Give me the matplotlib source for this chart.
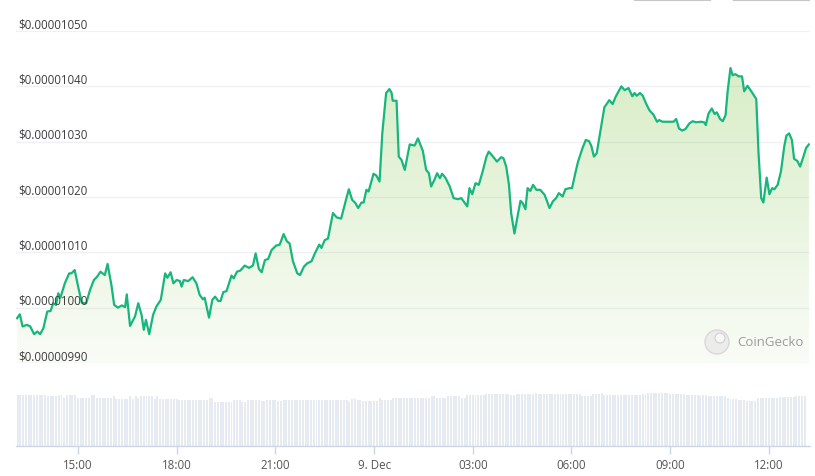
import matplotlib
matplotlib.use("Agg")
import matplotlib.pyplot as plt
import matplotlib.dates as mdates
import matplotlib.patches as patches
import matplotlib.transforms as mtransforms
from matplotlib.lines import Line2D
import numpy as np
import pandas as pd

plt.rcParams['font.family'] = ['Open Sans', 'DejaVu Sans']

price_times = [
    "13:09", "13:14", "13:19", "13:27", "13:33", "13:40", "13:46", "13:51", "13:57", "14:04",
    "14:10", "14:15", "14:20", "14:24", "14:28", "14:36", "14:44", "14:48", "14:54", "15:01",
    "15:07", "15:15", "15:22", "15:29", "15:35", "15:41", "15:49", "15:54", "16:01", "16:06",
    "16:13", "16:20", "16:26", "16:29", "16:35", "16:44", "16:50", "16:56", "17:00", "17:04",
    "17:10", "17:17", "17:23", "17:31", "17:39", "17:43", "17:49", "17:54", "18:00", "18:06",
    "18:09", "18:13", "18:21", "18:29", "18:36", "18:42", "18:48", "18:51", "18:59", "19:05",
    "19:10", "19:16", "19:20", "19:25", "19:31", "19:40", "19:44", "19:50", "19:56", "20:04",
    "20:12", "20:19", "20:24", "20:30", "20:35", "20:41", "20:47", "20:53", "21:01", "21:08",
    "21:15", "21:21", "21:26", "21:32", "21:40", "21:45", "21:52", "21:58", "22:06", "22:12",
    "22:20", "22:24", "22:30", "22:36", "22:45", "22:52", "23:00", "23:08", "23:14", "23:20",
    "23:26", "23:31", "23:37", "23:41", "23:46", "23:50", "23:55", "23:59", "00:04", "00:10",
    "00:15", "00:22", "00:28", "00:32", "00:34", "00:41", "00:45", "00:50", "00:56", "01:05",
    "01:14", "01:20", "01:29", "01:35", "01:40", "01:44", "01:50", "01:55", "02:00", "02:04",
    "02:10", "02:18", "02:25", "02:33", "02:39", "02:45", "02:50", "02:54", "02:59", "03:05",
    "03:11", "03:18", "03:25", "03:29", "03:37", "03:44", "03:52", "03:56", "04:01", "04:06",
    "04:10", "04:16", "04:22", "04:27", "04:31", "04:36", "04:40", "04:45", "04:50", "04:56",
    "05:03", "05:11", "05:20", "05:26", "05:32", "05:37", "05:44", "05:49", "05:56", "06:01",
    "06:07", "06:12", "06:20", "06:26", "06:32", "06:36", "06:41", "06:46", "06:54", "07:00",
    "07:09", "07:15", "07:21", "07:31", "07:37", "07:44", "07:51", "07:55", "07:59", "08:05",
    "08:10", "08:16", "08:22", "08:30", "08:36", "08:40", "08:46", "08:59", "09:06", "09:11",
    "09:16", "09:22", "09:28", "09:35", "09:41", "09:47", "09:56", "10:02", "10:05", "10:10",
    "10:16", "10:21", "10:25", "10:31", "10:36", "10:41", "10:45", "10:50", "10:54", "10:59",
    "11:05", "11:11", "11:15", "11:21", "11:28", "11:37", "11:41", "11:46", "11:50", "11:56",
    "12:01", "12:06", "12:10", "12:16", "12:22", "12:28", "12:32", "12:37", "12:42", "12:46",
    "12:52", "12:57", "13:03", "13:08", "13:13",
]
price_e8 = [
    998.1, 998.8, 996.6, 996.9, 996.6, 995.2, 995.7, 995.2, 996.3, 999.3,
    999.4, 1000.8, 1000.5, 1002.6, 1001.8, 1004.4, 1006.2, 1006.2, 1006.8, 1003.5,
    1000.9, 1000.8, 1003.2, 1005.0, 1005.6, 1006.5, 1005.9, 1007.9, 1004.1, 1000.5,
    1000.0, 1000.4, 1000.1, 1002.4, 996.7, 998.4, 1000.8, 998.7, 996.0, 997.8,
    995.2, 998.7, 1000.2, 1001.4, 1006.2, 1005.4, 1006.4, 1004.4, 1005.0, 1004.8,
    1003.8, 1005.0, 1004.8, 1005.5, 1004.4, 1002.3, 1001.5, 1001.8, 998.2, 1001.4,
    1002.0, 1001.2, 1001.2, 1002.8, 1003.0, 1005.8, 1005.3, 1006.5, 1006.7, 1007.6,
    1007.2, 1007.6, 1009.8, 1007.0, 1006.4, 1008.6, 1008.8, 1010.4, 1011.2, 1011.4,
    1013.3, 1012.0, 1011.6, 1008.4, 1006.2, 1005.9, 1007.4, 1008.0, 1008.4, 1009.8,
    1011.4, 1010.8, 1012.2, 1012.5, 1017.1, 1016.3, 1016.1, 1019.2, 1021.4, 1019.5,
    1018.9, 1018.0, 1019.0, 1019.0, 1021.3, 1021.0, 1022.8, 1024.2, 1023.9, 1022.8,
    1031.5, 1038.8, 1039.5, 1038.8, 1037.4, 1037.4, 1027.3, 1026.7, 1024.9, 1029.5,
    1029.3, 1030.6, 1028.3, 1024.9, 1024.3, 1021.9, 1023.1, 1024.3, 1023.4, 1024.2,
    1023.5, 1021.9, 1019.8, 1019.6, 1019.8, 1019.0, 1018.3, 1021.6, 1020.5, 1022.5,
    1022.2, 1024.6, 1027.3, 1028.2, 1027.3, 1026.4, 1027.2, 1027.0, 1025.5, 1022.2,
    1017.1, 1013.4, 1016.7, 1019.3, 1018.9, 1017.8, 1021.6, 1021.1, 1022.2, 1021.3,
    1021.3, 1020.4, 1018.0, 1019.2, 1019.8, 1020.7, 1020.1, 1021.4, 1021.6, 1021.6,
    1024.3, 1026.4, 1028.8, 1030.3, 1030.1, 1029.3, 1027.3, 1027.9, 1032.7, 1036.2,
    1037.5, 1036.8, 1038.2, 1040.0, 1039.3, 1039.7, 1038.2, 1038.8, 1038.3, 1038.8,
    1038.3, 1036.9, 1035.7, 1034.8, 1033.6, 1033.9, 1033.6, 1033.6, 1033.6, 1034.1,
    1032.4, 1032.0, 1032.3, 1033.3, 1033.7, 1033.5, 1033.6, 1033.5, 1033.0, 1035.1,
    1036.0, 1035.0, 1035.3, 1034.1, 1033.7, 1034.8, 1039.3, 1043.3, 1042.0, 1042.2,
    1041.8, 1041.8, 1039.1, 1040.1, 1039.1, 1037.7, 1028.2, 1019.8, 1019.0, 1023.5,
    1020.5, 1021.6, 1021.4, 1022.2, 1024.6, 1029.1, 1031.1, 1031.5, 1030.3, 1026.9,
    1026.5, 1025.5, 1027.3, 1028.9, 1029.5,
]

# volume per 5 minuten vanaf 13:10 (relatieve eenheden), een rij per uur
volume = [
    51, 51, 51, 51, 51, 51, 51, 51, 51, 51, 51, 50,
    50, 50, 50, 51, 51, 48, 51, 51, 51, 51, 48, 48,
    48, 48, 48, 51, 51, 48, 48, 48, 48, 48, 48, 50,
    47, 47, 47, 47, 47, 50, 47, 50, 48, 50, 50, 50,
    50, 50, 47, 50, 47, 47, 47, 47, 47, 47, 47, 46,
    46, 46, 46, 46, 46, 46, 46, 46, 46, 46, 48, 48,
    44.5, 44.5, 44.5, 44.5, 44.5, 44.5, 44.5, 46, 46, 46, 44.5, 44.5,
    46, 46, 46, 46, 46, 45.5, 45.5, 46, 46, 46, 46, 45,
    45, 46, 46, 46, 46, 46, 46, 46, 46, 46, 46, 46,
    46, 46, 46, 46, 46, 46, 46, 46, 46, 46, 46, 46,
    46, 44.5, 47, 47, 46, 46, 45, 45, 45, 45, 45, 45,
    48, 46, 46, 46, 46, 48, 48, 48, 48, 48, 48, 48,
    48, 48, 48, 48, 48, 48, 48, 50, 50, 48, 48, 48,
    48, 50, 50, 50, 50, 50, 48, 48, 51, 51, 51, 51,
    51, 51, 51, 52, 52, 52, 52, 52, 52, 52, 52, 52,
    51, 51, 52, 52, 52, 52, 52, 52, 52, 53, 52, 52,
    52, 52, 52, 52, 52, 52, 52, 52, 52, 52, 52, 52,
    52, 52, 50, 50, 50, 50, 52, 52, 52, 53, 51, 51,
    51, 51, 51, 51, 51, 51, 51, 51, 51, 51, 51, 51,
    52, 52, 53, 53, 53, 53, 53, 53, 53, 53, 52, 52,
    52, 52, 52, 52, 51, 51, 51, 51, 51, 50, 51, 51,
    50, 50.5, 50.5, 50.5, 50.5, 50.5, 50.5, 48, 47.5, 47, 47, 46.5,
    46.5, 46.5, 45, 45, 45, 45, 48.5, 48.5, 48.5, 48.5, 48.5, 48.5,
    48.5, 48.5, 49, 49, 49, 49, 49, 49, 50, 50, 50, 50,
]

y_ticks = [990, 1000, 1010, 1020, 1030, 1040, 1050]

# tijdstippen omzetten naar datetime (dagwissel bij middernacht)
day = pd.Timestamp("2023-12-08")
stamps = []
prev = None
for t in price_times:
    ts = pd.Timestamp(f"{day.date()} {t}")
    if prev is not None and ts < prev:
        day = day + pd.Timedelta(days=1)
        ts = pd.Timestamp(f"{day.date()} {t}")
    stamps.append(ts)
    prev = ts
xp = mdates.date2num(stamps)
vol_times = mdates.date2num(pd.date_range("2023-12-08 13:10", periods=len(volume), freq="5min"))

x0 = mdates.date2num(pd.Timestamp("2023-12-08 13:07"))
x1 = mdates.date2num(pd.Timestamp("2023-12-09 13:15"))

W, H = 815, 477
fig = plt.figure(figsize=(W / 100, H / 100), dpi=100)
fig.patch.set_facecolor('white')

def fbox(left, top, right, bottom):
    return [left / W, 1 - bottom / H, (right - left) / W, (bottom - top) / H]

ax = fig.add_axes(fbox(16, 32, 810, 364))
axv = fig.add_axes(fbox(16, 390, 810, 447))

line_color = '#16b67c'

# prijs
for v in y_ticks:
    ax.axhline(v, color='#eef0f4', lw=1, zorder=0)
poly = ax.fill_between(xp, price_e8, y_ticks[0], color='none', lw=0)
grad = np.linspace(0.32, 0.05, 256).reshape(-1, 1)
rgba = np.zeros((256, 1, 4))
rgba[..., 0] = 0.52
rgba[..., 1] = 0.78
rgba[..., 2] = 0.30
rgba[..., 3] = grad
img = ax.imshow(rgba, extent=[x0, x1, y_ticks[0], 1045], aspect='auto',
                origin='upper', zorder=1)
clip = poly.get_paths()[0]
img.set_clip_path(clip, ax.transData)
ax.plot(xp, price_e8, color=line_color, lw=1.6, zorder=3, solid_joinstyle='round')
ax.set_xlim(x0, x1)
ax.set_ylim(y_ticks[0], y_ticks[-1])
ax.axis('off')

trans = mtransforms.blended_transform_factory(ax.transAxes, ax.transData)
for v in y_ticks:
    ax.text(0.0025, v + 0.15, f"${v * 1e-8:.8f}", transform=trans, ha='left', va='bottom',
            fontsize=8.3, color='#3c3c3c', zorder=4)

# volume
axv.bar(vol_times, volume, width=5 / 1440 * 0.72, color='#e6eaf1', lw=0, align='center')
axv.set_xlim(x0, x1)
axv.set_ylim(0, 57)
for s in ['top', 'left', 'right']:
    axv.spines[s].set_visible(False)
axv.spines['bottom'].set_color('#ccd6eb')
axv.spines['bottom'].set_linewidth(1)
axv.set_yticks([])

tick_times = pd.date_range("2023-12-08 15:00", periods=8, freq="3h")
axv.set_xticks(mdates.date2num(tick_times))
axv.set_xticklabels([f"{t.day}. {t.strftime('%b')}" if t.hour == 0 else t.strftime('%H:%M')
                     for t in tick_times])
axv.tick_params(axis='x', length=6, width=1, color='#ccd6eb', labelsize=8.3,
                labelcolor='#555555', pad=2.5)

# watermerk
logo = patches.Circle((717, H - 343), 12, transform=None, facecolor='#ececec',
                      edgecolor='#d8d8d8', lw=1, zorder=5)
fig.patches.append(logo)
eye = patches.Circle((720, H - 339), 5, transform=None, facecolor='#f8f8f8',
                     edgecolor='#d0d0d0', lw=0.8, zorder=6)
fig.patches.append(eye)
fig.text(737 / W, 1 - 343 / H, "CoinGecko", fontsize=9.5, color='#9c9c9c',
         ha='left', va='center')

# knoppen rechtsboven (afgesneden)
for a, b in [(635, 710), (734, 809)]:
    fig.add_artist(Line2D([a / W, b / W], [1 - 0.8 / H, 1 - 0.8 / H], color='#c6c6c6', lw=1.5))

fig.savefig("out.png", dpi=100)
